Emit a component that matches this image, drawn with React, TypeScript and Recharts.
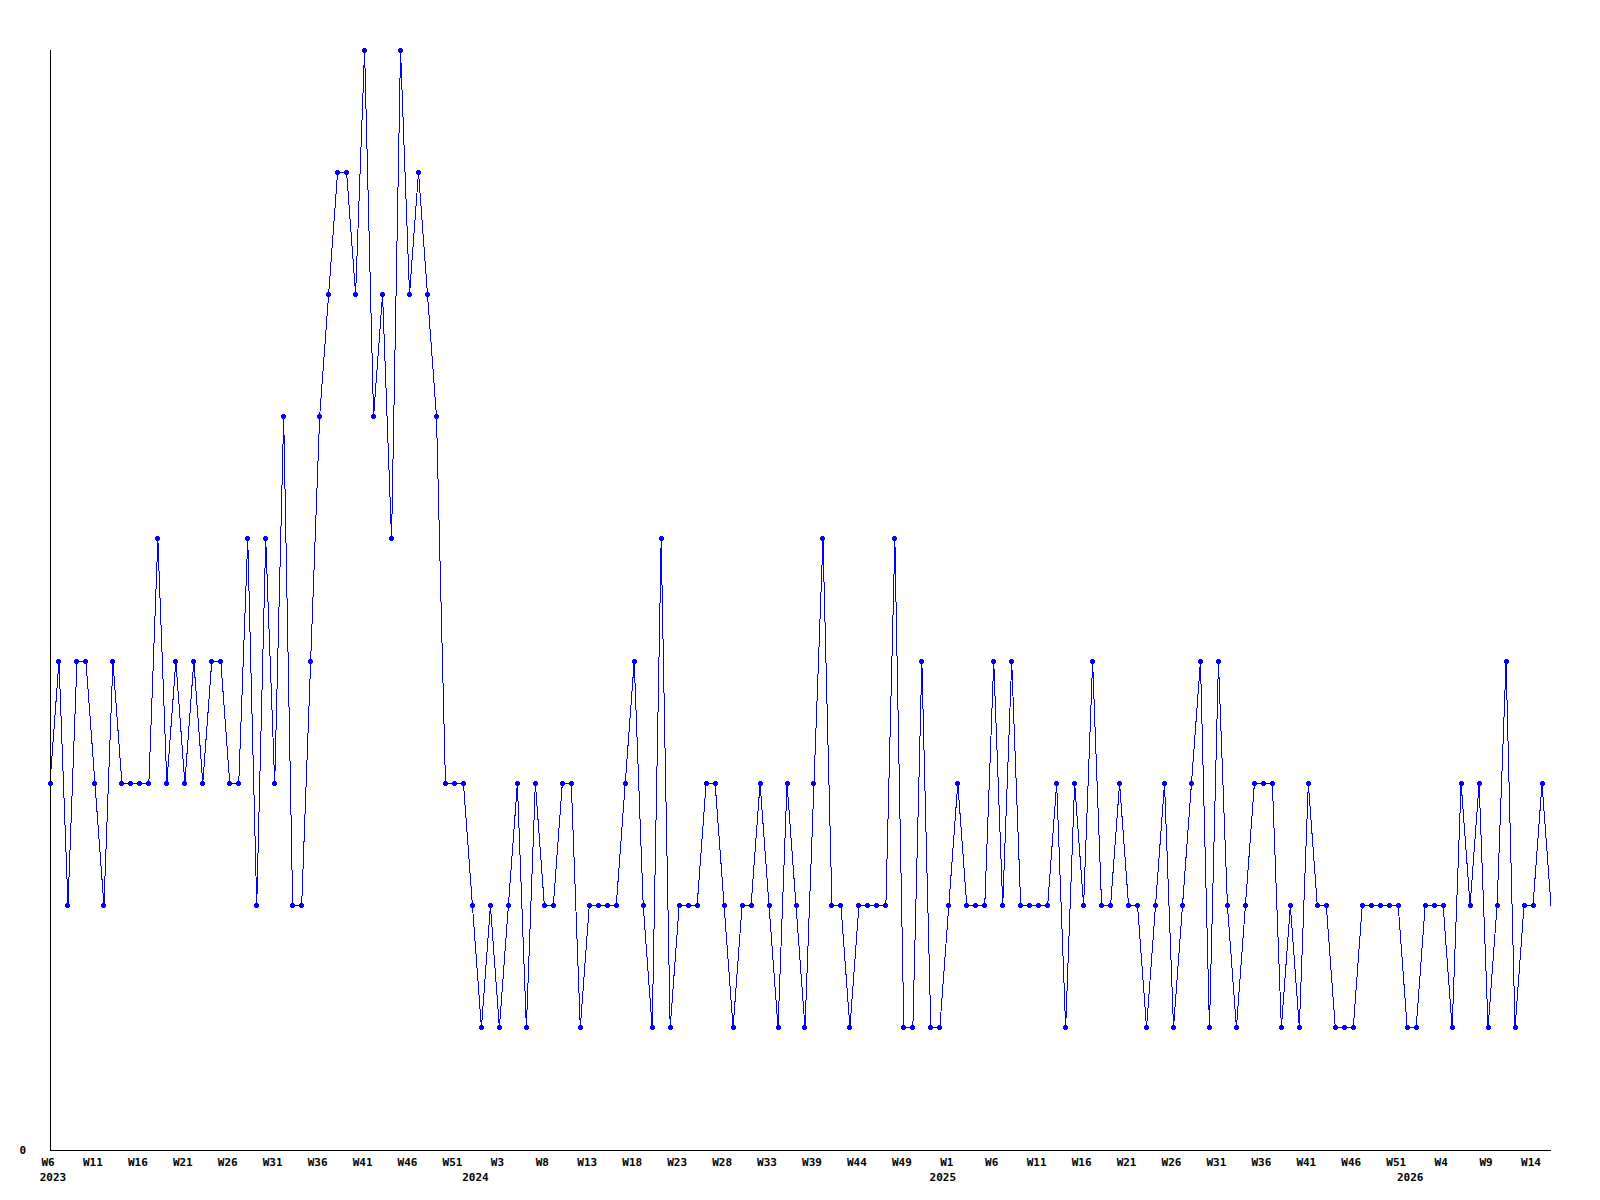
import { LineChart, Line, XAxis, YAxis } from 'recharts'

// weekly counts, first point is 2023 W6
const WEEKLY_COUNTS = [
  3, 4, 2, 4, 4, 3, 2, 4, 3, 3,
  3, 3, 5, 3, 4, 3, 4, 3, 4, 4,
  3, 3, 5, 2, 5, 3, 6, 2, 2, 4,
  6, 7, 8, 8, 7, 9, 6, 7, 5, 9,
  7, 8, 7, 6, 3, 3, 3, 2, 1, 2,
  1, 2, 3, 1, 3, 2, 2, 3, 3, 1,
  2, 2, 2, 2, 3, 4, 2, 1, 5, 1,
  2, 2, 2, 3, 3, 2, 1, 2, 2, 3,
  2, 1, 3, 2, 1, 3, 5, 2, 2, 1,
  2, 2, 2, 2, 5, 1, 1, 4, 1, 1,
  2, 3, 2, 2, 2, 4, 2, 4, 2, 2,
  2, 2, 3, 1, 3, 2, 4, 2, 2, 3,
  2, 2, 1, 2, 3, 1, 2, 3, 4, 1,
  4, 2, 1, 2, 3, 3, 3, 1, 2, 1,
  3, 2, 2, 1, 1, 1, 2, 2, 2, 2,
  2, 1, 1, 2, 2, 2, 1, 3, 2, 3,
  1, 2, 4, 1, 2, 2, 3, 2,
]

const WEEK_LABELS = [
  'W6', 'W11', 'W16', 'W21', 'W26', 'W31', 'W36', 'W41', 'W46', 'W51',
  'W3', 'W8', 'W13', 'W18', 'W23', 'W28', 'W33', 'W39', 'W44', 'W49',
  'W1', 'W6', 'W11', 'W16', 'W21', 'W26', 'W31', 'W36', 'W41', 'W46', 'W51',
  'W4', 'W9', 'W14',
]
const WEEK_TICKS = WEEK_LABELS.map((_, k) => k * 5)

const YEAR_LABELS = ['2023', '2024', '2025', '2026']
const YEAR_TICKS = [0, 47, 99, 151]

const data = WEEKLY_COUNTS.map((v, i) => ({ i, v }))
const LAST = WEEKLY_COUNTS.length - 1

const BLUE = '#0000ff'
const TICK_STYLE = {
  fontFamily: '"DejaVu Sans Mono", monospace',
  fontSize: 11,
  fontWeight: 'bold',
  fill: '#000',
}

function WeekTick({ x, y, payload }: any) {
  const k = WEEK_TICKS.indexOf(payload.value)
  return (
    <text x={x - 2} y={y} dy="0.71em" textAnchor="middle" style={TICK_STYLE}>
      {WEEK_LABELS[k]}
    </text>
  )
}

function YearTick({ x, y, payload }: any) {
  const k = YEAR_TICKS.indexOf(payload.value)
  return (
    <text x={x + 3} y={y} dy="0.71em" textAnchor="middle" style={TICK_STYLE}>
      {YEAR_LABELS[k]}
    </text>
  )
}

function PlusDot({ cx, cy, index }: any) {
  if (index === LAST || cx == null) return <g key={index} />
  return (
    <g key={index}>
      <rect x={cx - 2.5} y={cy - 1.5} width={5} height={3} fill={BLUE} />
      <rect x={cx - 1.5} y={cy - 2.5} width={3} height={5} fill={BLUE} />
    </g>
  )
}

export default function App() {
  return (
    <div style={{ width: 1584, height: 1184, background: '#fff' }}>
      <LineChart
        width={1584}
        height={1184}
        data={data}
        margin={{ top: 42, right: 41, left: 0, bottom: 0 }}
        style={{ shapeRendering: 'crispEdges' }}
      >
        <XAxis
          dataKey="i"
          type="number"
          domain={[0, LAST]}
          ticks={WEEK_TICKS}
          interval={0}
          height={16}
          tickSize={0}
          tickMargin={8}
          tickLine={false}
          axisLine={{ stroke: '#000', strokeWidth: 1 }}
          tick={<WeekTick />}
        />
        <XAxis
          xAxisId="year"
          dataKey="i"
          type="number"
          domain={[0, LAST]}
          ticks={YEAR_TICKS}
          interval={0}
          height={26}
          tickSize={0}
          tickMargin={7}
          tickLine={false}
          axisLine={false}
          tick={<YearTick />}
        />
        <YAxis
          type="number"
          domain={[0, 9]}
          ticks={[0]}
          width={42}
          tickSize={0}
          tickMargin={24}
          tickLine={false}
          axisLine={{ stroke: '#000', strokeWidth: 1 }}
          tick={TICK_STYLE}
        />
        <Line
          type="linear"
          dataKey="v"
          stroke={BLUE}
          strokeWidth={1}
          dot={(p: any) => <PlusDot {...p} key={p.index} />}
          activeDot={false}
          isAnimationActive={false}
        />
      </LineChart>
    </div>
  )
}
